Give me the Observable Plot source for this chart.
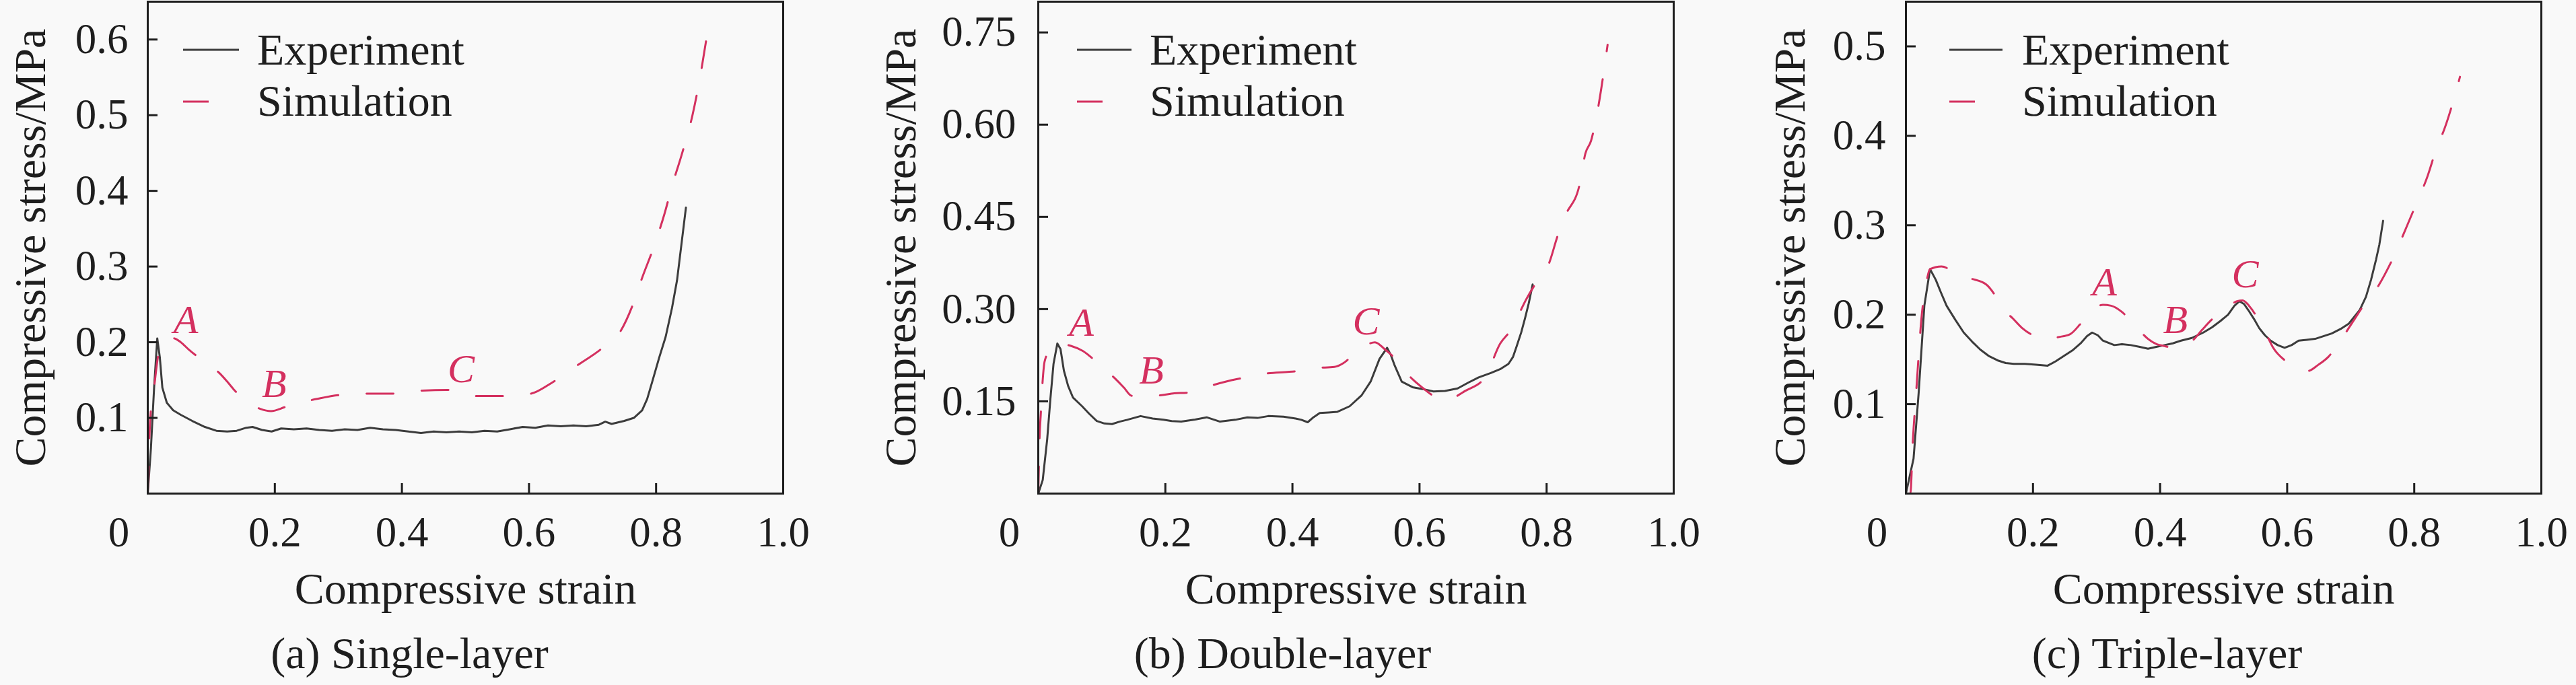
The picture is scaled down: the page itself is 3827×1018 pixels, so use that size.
<!DOCTYPE html>
<html><head><meta charset="utf-8">
<script src="https://cdn.jsdelivr.net/npm/d3@7"></script>
<script src="https://cdn.jsdelivr.net/npm/@observablehq/plot@0.6"></script>
<style>
html,body{margin:0;padding:0;background:#f9f9f9;}
#wrap{position:relative;width:3827px;height:1018px;overflow:hidden;font-family:"Liberation Serif","Times New Roman",serif;}
.panel{position:absolute;top:0;}
#overlay{position:absolute;left:0;top:0;pointer-events:none;}
</style></head><body><div id="wrap"></div>
<script>
// ---------- data ----------
const seriesNames = ["Experiment", "Simulation"];
const xTitle = "Compressive strain";
const yTitle = "Compressive stress/MPa";
const captions = ["(a) Single-layer", "(b) Double-layer", "(c) Triple-layer"];
const xTickLabels = [0.2, 0.4, 0.6, 0.8, 1.0];
const xTickMarks = [0.2, 0.4, 0.6, 0.8];
const yTicksA = [0.1, 0.2, 0.3, 0.4, 0.5, 0.6];
const yTicksB = [0.15, 0.30, 0.45, 0.60, 0.75];
const yTicksC = [0.1, 0.2, 0.3, 0.4, 0.5];
const yDomainA = [0, 0.65];
const yDomainB = [0, 0.8];
const yDomainC = [0, 0.55];

// [strain, stress MPa]
const expA = [[0,0],[0.005,0.06],[0.010,0.14],[0.015,0.205],[0.019,0.18],[0.023,0.14],[0.03,0.12],[0.04,0.11],[0.052,0.104],[0.07,0.096],[0.09,0.088],[0.108,0.083],[0.125,0.082],[0.14,0.083],[0.155,0.087],[0.165,0.088],[0.18,0.084],[0.195,0.082],[0.21,0.086],[0.23,0.085],[0.25,0.086],[0.27,0.084],[0.29,0.083],[0.31,0.085],[0.33,0.084],[0.35,0.087],[0.37,0.085],[0.39,0.084],[0.41,0.082],[0.43,0.080],[0.45,0.082],[0.47,0.081],[0.49,0.082],[0.51,0.081],[0.53,0.083],[0.55,0.082],[0.57,0.085],[0.59,0.088],[0.61,0.087],[0.63,0.090],[0.65,0.089],[0.67,0.090],[0.69,0.089],[0.71,0.091],[0.72,0.095],[0.73,0.092],[0.75,0.096],[0.765,0.10],[0.778,0.11],[0.786,0.125],[0.794,0.148],[0.805,0.18],[0.815,0.207],[0.825,0.245],[0.833,0.282],[0.84,0.33],[0.847,0.378]];
const simA = [[0,0],[0.002,0.06],[0.004,0.1],[0.01,0.14],[0.016,0.18],[0.025,0.2],[0.035,0.206],[0.045,0.204],[0.052,0.2],[0.065,0.19],[0.08,0.18],[0.095,0.172],[0.113,0.159],[0.125,0.148],[0.137,0.136],[0.155,0.122],[0.177,0.112],[0.194,0.109],[0.215,0.114],[0.235,0.12],[0.26,0.124],[0.3,0.13],[0.347,0.132],[0.385,0.132],[0.432,0.136],[0.472,0.137],[0.515,0.129],[0.5625,0.129],[0.6027,0.132],[0.637,0.147],[0.677,0.17],[0.712,0.19],[0.743,0.213],[0.765,0.253],[0.778,0.285],[0.796,0.325],[0.813,0.369],[0.826,0.409],[0.84,0.447],[0.857,0.499],[0.87,0.554],[0.879,0.6]];
const expB = [[0,0],[0.007,0.022],[0.014,0.088],[0.019,0.153],[0.024,0.211],[0.030,0.244],[0.035,0.235],[0.0403,0.2],[0.047,0.175],[0.0547,0.156],[0.069,0.142],[0.08,0.13],[0.092,0.118],[0.104,0.114],[0.116,0.113],[0.128,0.117],[0.14,0.12],[0.161,0.126],[0.18,0.122],[0.197,0.12],[0.21,0.118],[0.225,0.117],[0.245,0.12],[0.265,0.124],[0.286,0.117],[0.31,0.12],[0.329,0.124],[0.345,0.123],[0.362,0.126],[0.386,0.125],[0.405,0.122],[0.414,0.12],[0.424,0.116],[0.433,0.124],[0.443,0.131],[0.457,0.132],[0.471,0.133],[0.49,0.142],[0.509,0.16],[0.523,0.182],[0.537,0.219],[0.549,0.237],[0.555,0.225],[0.561,0.208],[0.572,0.182],[0.589,0.173],[0.605,0.17],[0.622,0.166],[0.64,0.167],[0.66,0.171],[0.676,0.18],[0.693,0.189],[0.712,0.196],[0.728,0.203],[0.74,0.211],[0.747,0.222],[0.753,0.24],[0.76,0.262],[0.766,0.285],[0.772,0.31],[0.778,0.34]];
const simB = [[0,0],[0.002,0.09],[0.004,0.13],[0.007,0.185],[0.01,0.215],[0.02,0.235],[0.035,0.243],[0.052,0.24],[0.07,0.232],[0.085,0.22],[0.1,0.205],[0.121,0.187],[0.135,0.172],[0.147,0.159],[0.17,0.158],[0.194,0.16],[0.214,0.163],[0.234,0.164],[0.255,0.17],[0.277,0.177],[0.312,0.186],[0.335,0.19],[0.357,0.195],[0.395,0.198],[0.415,0.2],[0.436,0.204],[0.466,0.206],[0.48,0.212],[0.492,0.222],[0.514,0.24],[0.53,0.246],[0.545,0.235],[0.559,0.222],[0.573,0.204],[0.59,0.185],[0.606,0.171],[0.62,0.16],[0.632,0.153],[0.65,0.155],[0.672,0.167],[0.703,0.189],[0.727,0.244],[0.743,0.265],[0.769,0.318],[0.786,0.347],[0.804,0.375],[0.817,0.418],[0.83,0.453],[0.852,0.503],[0.861,0.553],[0.87,0.574],[0.879,0.616],[0.896,0.73]];
const expC = [[0,0],[0.012,0.039],[0.02,0.112],[0.029,0.21],[0.038,0.251],[0.047,0.239],[0.055,0.225],[0.064,0.21],[0.078,0.194],[0.091,0.18],[0.104,0.17],[0.117,0.161],[0.13,0.154],[0.144,0.149],[0.157,0.146],[0.17,0.145],[0.187,0.145],[0.205,0.144],[0.223,0.143],[0.236,0.148],[0.249,0.154],[0.262,0.16],[0.275,0.168],[0.285,0.176],[0.293,0.18],[0.302,0.177],[0.31,0.171],[0.328,0.166],[0.34,0.167],[0.354,0.166],[0.368,0.164],[0.381,0.162],[0.394,0.164],[0.407,0.166],[0.42,0.168],[0.433,0.171],[0.45,0.174],[0.468,0.18],[0.482,0.186],[0.495,0.193],[0.507,0.2],[0.517,0.21],[0.525,0.215],[0.532,0.212],[0.539,0.205],[0.548,0.195],[0.556,0.185],[0.565,0.177],[0.574,0.171],[0.585,0.166],[0.596,0.163],[0.607,0.166],[0.618,0.171],[0.631,0.172],[0.644,0.173],[0.657,0.176],[0.67,0.179],[0.684,0.184],[0.697,0.19],[0.714,0.205],[0.724,0.22],[0.732,0.239],[0.74,0.262],[0.745,0.278],[0.751,0.305]];
const simC = [[0,0],[0.007,0.0],[0.011,0.06],[0.016,0.112],[0.025,0.2],[0.032,0.235],[0.038,0.251],[0.056,0.254],[0.07,0.25],[0.082,0.244],[0.104,0.24],[0.126,0.234],[0.14,0.222],[0.152,0.207],[0.168,0.196],[0.183,0.185],[0.2,0.177],[0.223,0.173],[0.24,0.175],[0.258,0.178],[0.275,0.19],[0.293,0.205],[0.31,0.211],[0.323,0.21],[0.34,0.203],[0.354,0.193],[0.368,0.182],[0.381,0.173],[0.395,0.167],[0.407,0.165],[0.42,0.163],[0.435,0.166],[0.451,0.171],[0.466,0.183],[0.482,0.195],[0.5,0.205],[0.521,0.215],[0.53,0.216],[0.54,0.21],[0.55,0.2],[0.561,0.185],[0.57,0.174],[0.578,0.163],[0.598,0.148],[0.618,0.139],[0.632,0.137],[0.649,0.144],[0.665,0.153],[0.679,0.166],[0.706,0.195],[0.72,0.21],[0.736,0.224],[0.763,0.258],[0.789,0.3],[0.802,0.322],[0.82,0.353],[0.837,0.39],[0.846,0.405],[0.872,0.466]];

// point labels [strain, stress, letter]
const labelsA = [[0.060,0.229,"A"],[0.199,0.145,"B"],[0.493,0.164,"C"]];
const labelsB = [[0.068,0.278,"A"],[0.178,0.200,"B"],[0.516,0.280,"C"]];
const labelsC = [[0.3125,0.236,"A"],[0.424,0.194,"B"],[0.534,0.245,"C"]];

// ---------- layout ----------
const RED = "#d4305f", DARK = "#3c3c3c", AXIS = "#1e1e1e";
const FONT = "'Liberation Serif', 'Times New Roman', serif";
const H = 1018, MT = 2, MB = 285;
const panels = [
  {left: 0, width: 1276, ml: 219, mr: 113, yDomain: yDomainA, yTicks: yTicksA, yFmt: d3.format(".1f"), ypad: 29, ytdx: -174, capdx: -83, exp: expA, sim: simA, labels: labelsA, caption: captions[0], leg: {l0: 272, l1: 355, s1: 310, tx: 382}},
  {left: 1276, width: 1276, ml: 266, mr: 66, yDomain: yDomainB, yTicks: yTicksB, yFmt: d3.format(".2f"), ypad: 33, ytdx: -204, capdx: -109, exp: expB, sim: simB, labels: labelsB, caption: captions[1], leg: {l0: 1600, l1: 1681, s1: 1638, tx: 1708}},
  {left: 2552, width: 1275, ml: 279, mr: 52, yDomain: yDomainC, yTicks: yTicksC, yFmt: d3.format(".1f"), ypad: 30, ytdx: -172, capdx: -84, exp: expC, sim: simC, labels: labelsC, caption: captions[2], leg: {l0: 2896, l1: 2975, s1: 2934, tx: 3004}}
];

const wrap = document.getElementById("wrap");
for (const p of panels) {
  const fw = p.width - p.ml - p.mr, fh = H - MT - MB;
  const chart = Plot.plot({
    width: p.width, height: H,
    marginLeft: p.ml, marginRight: p.mr, marginTop: MT, marginBottom: MB,
    style: {background: "transparent", fontFamily: FONT, color: AXIS, overflow: "visible"},
    x: {domain: [0, 1]},
    y: {domain: p.yDomain},
    marks: [
      Plot.line(p.exp, {x: d => d[0], y: d => d[1], stroke: DARK, strokeWidth: 3}),
      Plot.line(p.sim, {x: d => d[0], y: d => d[1], stroke: RED, strokeWidth: 3, strokeDasharray: "40,42", curve: "monotone-x"}),
      Plot.text(p.labels, {x: d => d[0], y: d => d[1], text: d => d[2], fill: RED, fontSize: 60, fontStyle: "italic", fontFamily: FONT}),
      Plot.ruleX(xTickMarks, {x: d => d, insetTop: fh - 15, stroke: AXIS, strokeWidth: 3}),
      Plot.ruleY(p.yTicks, {y: d => d, insetRight: fw - 15, stroke: AXIS, strokeWidth: 3}),
      Plot.frame({stroke: AXIS, strokeWidth: 3}),
      Plot.axisX({ticks: xTickLabels, tickSize: 0, tickPadding: 34, tickFormat: d3.format(".1f"), fontSize: 63, fontFamily: FONT, label: null}),
      Plot.axisX({ticks: [0], tickSize: 0, tickPadding: 34, tickFormat: () => "0", dx: -43, fontSize: 63, fontFamily: FONT, label: null}),
      Plot.axisY({ticks: p.yTicks, tickSize: 0, tickPadding: p.ypad, tickFormat: p.yFmt, fontSize: 63, fontFamily: FONT, label: null}),
      Plot.text([xTitle], {frameAnchor: "bottom", lineAnchor: "bottom", dy: 163, text: d => d, fontSize: 66, fontFamily: FONT, fill: AXIS}),
      Plot.text([p.caption], {frameAnchor: "bottom", lineAnchor: "bottom", dy: 259, dx: p.capdx, text: d => d, fontSize: 66, fontFamily: FONT, fill: AXIS}),
      Plot.text([yTitle], {frameAnchor: "left", textAnchor: "middle", rotate: -90, dx: p.ytdx, text: d => d, fontSize: 66, fontFamily: FONT, fill: AXIS})
    ]
  });
  const div = document.createElement("div");
  div.className = "panel";
  div.style.left = p.left + "px";
  div.appendChild(chart);
  wrap.appendChild(div);
}

// legend overlay (inside each frame, top-left)
const ov = d3.select(wrap).append("svg").attr("id", "overlay").attr("width", 3827).attr("height", H);
for (const p of panels) {
  const g = ov.append("g");
  g.append("line").attr("x1", p.leg.l0).attr("x2", p.leg.l1).attr("y1", 74).attr("y2", 74).attr("stroke", DARK).attr("stroke-width", 3);
  g.append("line").attr("x1", p.leg.l0).attr("x2", p.leg.s1).attr("y1", 151).attr("y2", 151).attr("stroke", RED).attr("stroke-width", 3);
  g.append("text").attr("x", p.leg.tx).attr("y", 96).attr("font-family", FONT).attr("font-size", 66).attr("fill", AXIS).text(seriesNames[0]);
  g.append("text").attr("x", p.leg.tx).attr("y", 172).attr("font-family", FONT).attr("font-size", 66).attr("fill", AXIS).text(seriesNames[1]);
}
</script></body></html>
